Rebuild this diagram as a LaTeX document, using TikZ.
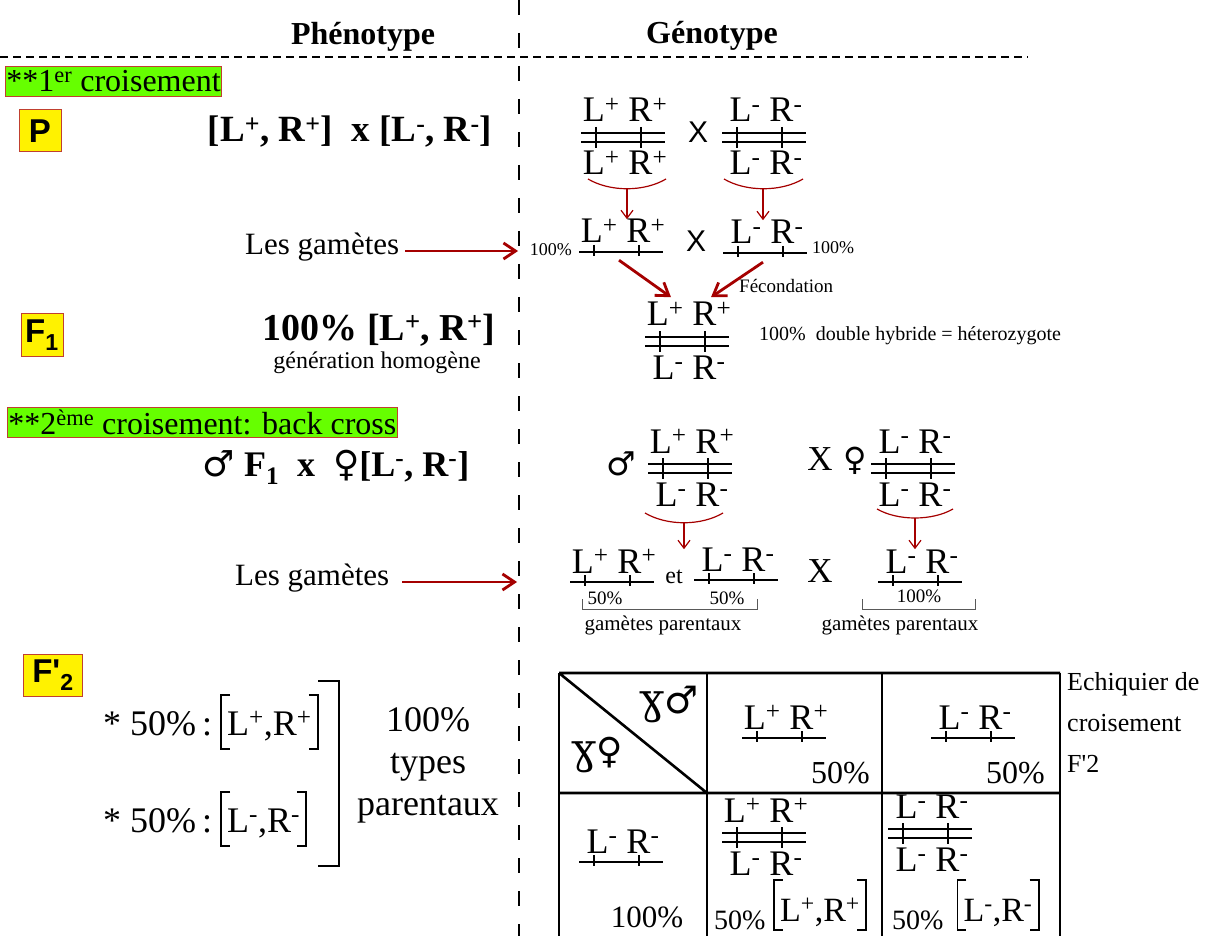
\documentclass[tikz,border=0pt]{standalone}
\usepackage{fontspec}
\setmainfont{Liberation Serif}
\setsansfont{Liberation Sans}
\newfontfamily\gsym{DejaVu Sans}
\newfontfamily\gipa{DejaVu Serif}
\usepackage{xcolor}
\usepackage{tikz}
\usetikzlibrary{arrows.meta, positioning, calc}
\definecolor{dred}{RGB}{165,0,0}
\definecolor{lgreen}{RGB}{102,255,0}
\definecolor{bord}{RGB}{192,64,48}
\newcommand{\setsz}[1]{\fontsize{#1}{#1}\selectfont}
\newcommand{\chrS}[4]{%
  \node[allele] (#1) at (#2+2,#3-9) {L\textsuperscript{#4} R\textsuperscript{#4}};
  \draw[chrom] (#2-42,#3) -- (#2+42,#3);
  \draw[tickl] (#2-27,#3-7) -- (#2-27,#3+4) (#2+18,#3-7) -- (#2+18,#3+4);
}
\newcommand{\chrD}[5]{%
  \node[allele] (#1t) at (#2+2,#3-11) {L\textsuperscript{#4} R\textsuperscript{#4}};
  \node[allele] (#1b) at (#2+2,#3+42) {L\textsuperscript{#5} R\textsuperscript{#5}};
  \draw[chrom] (#2-42,#3) -- (#2+42,#3) (#2-42,#3+9) -- (#2+42,#3+9);
  \draw[tickl] (#2-27,#3-6) -- (#2-27,#3+15) (#2+18,#3-6) -- (#2+18,#3+15);
}

\begin{document}
\begin{tikzpicture}[x=1pt, y=-1pt,
  txt/.style={inner sep=0, anchor=base},
  allele/.style={inner sep=0, anchor=base, font=\setsz{36}},
  chrom/.style={line width=2.8pt},
  tickl/.style={line width=1.1pt},
  lbl/.style={draw=bord, line width=1pt, fill=yellow, minimum height=42pt,
              minimum width=42pt, inner xsep=3pt, font=\sffamily\bfseries\setsz{33}},
  cross/.style={draw=bord, line width=0.8pt, fill=lgreen, inner xsep=1pt,
                inner ysep=0pt, minimum height=30pt, anchor=west, font=\setsz{32}},
  arr/.style={-{Straight Barb[length=12pt,width=16pt]}, dred, line width=2.8pt},
  darr/.style={-{Straight Barb[length=8pt,width=12pt]}, dred, line width=1.2pt},
  arcl/.style={dred, line width=1.2pt},
  pheno/.style={inner sep=0, anchor=base, font=\bfseries\setsz{37}},
  brk/.style={line width=1.8pt},
  brnode/.style={inner xsep=6pt, inner ysep=12pt, text height=28pt,
                 text depth=2pt, anchor=base west, font=\setsz{36}},
  cellbr/.style={inner xsep=6pt, inner ysep=9pt, text height=32pt,
                 text depth=0pt, anchor=base, font=\setsz{34}},
  gbr/.style={gray!70!black, line width=0.9pt},
  hdash/.style={line width=1.6pt, dash pattern=on 8pt off 5pt},
  vdash/.style={line width=2.2pt, dash pattern=on 15pt off 18pt},
  tbl/.style={line width=2.6pt}
]
\useasboundingbox (0,0) rectangle (1211,936);
\draw[hdash] (0,57) -- (1028,57);
\draw[vdash] (519,0) -- (519,936);
\node[txt, font=\bfseries\setsz{32}] (phen) at (363,45) {Phénotype};
\node[txt, font=\bfseries\setsz{32}] (geno) at (712,44) {Génotype};

\node[cross] (cr1) at (5,81) {**1\textsuperscript{er} croisement};
\node[lbl] (labP) at (40,131) {P};
\node[pheno] (phP) at (350,142)
  {[L\textsuperscript{+}, R\textsuperscript{+}]~~x [L\textsuperscript{-}, R\textsuperscript{-}]};
\chrD{pA}{623}{133}{+}{+}
\node[txt, font=\sffamily\setsz{30}] (xA) at (698,143) {X};
\chrD{pB}{764}{133}{-}{-}
\draw[arcl] (588,179) .. controls (610,192) and (644,192) .. (666,179);
\draw[arcl] (724,179) .. controls (746,192) and (781,192) .. (803,179);
\coordinate (arA) at (627,189);
\coordinate (arB) at (763,189);

\node[txt, font=\setsz{31}, anchor=base west] (lgA) at (245,255) {Les gamètes};
\coordinate (gaA) at (518,251);
\draw[arr, shorten <=6pt] (lgA.east |- gaA) -- (gaA);
\chrS{gA}{621}{252}{+}
\node[txt, font=\sffamily\setsz{30}] (xB) at (696,252) {X};
\chrS{gB}{765}{253}{-}
\node[txt, font=\setsz{18}, anchor=base east] (pcA) at (572,256) {100\%};
\node[txt, font=\setsz{18}, anchor=base west] (pcB) at (812,254) {100\%};
\draw[darr] (arA) -- (arA |- gA.north);
\draw[darr] (arB) -- (arB |- gB.north);

\node[txt, font=\setsz{19}, anchor=base west] (fec) at (739,293) {Fécondation};
\chrD{fone}{687}{337}{+}{-}
\draw[arr] ($(gA.south)+(-4,17)$) -- ($(fonet.north)+(-18,-5)$);
\draw[arr] ($(gB.south)+(-4,18)$) -- ($(fonet.north)+(22,-5)$);
\node[txt, font=\setsz{20}, anchor=base west] (hyb) at (759,340)
  {100\%~~double hybride = héterozygote};

\node[lbl] (labF) at (42,335) {F\textsubscript{1}};
\node[pheno, font=\bfseries\setsz{38}] (phF) at (379,340)
  {100\% [L\textsuperscript{+}, R\textsuperscript{+}]};
\node[txt, font=\setsz{24}] (hom) at (377,368) {génération homogène};

\node[cross] (cr2) at (7,422) {**2\textsuperscript{ème} croisement: back cross};
\node[pheno, font=\bfseries\setsz{36}] (phB) at (336,476)
  {{\gsym\mdseries ♂}~F\textsubscript{1}~~x~~{\gsym\mdseries ♀}[L\textsuperscript{-}, R\textsuperscript{-}]};
\node[txt, font=\gsym\setsz{33}] (maleA) at (621,475) {♂};
\chrD{bA}{690}{464}{+}{-}
\node[txt, font=\setsz{35}] (xC) at (820,470) {X};
\node[txt, font=\gsym\setsz{32}] (femA) at (855,470) {♀};
\chrD{bB}{913}{464}{-}{-}
\draw[arcl] (645,513) .. controls (667,526) and (701,526) .. (723,513);
\draw[arcl] (877,509) .. controls (898,521) and (932,521) .. (953,509);
\coordinate (arC) at (684,523);
\coordinate (arD) at (915,518);

\node[txt, font=\setsz{31}, anchor=base west] (lgB) at (235,585) {Les gamètes};
\coordinate (gaB) at (517,582);
\draw[arr, shorten <=13pt] (lgB.east |- gaB) -- (gaB);
\chrS{cA}{612}{582}{+}
\node[txt, font=\setsz{24}] (et) at (674,583) {et};
\chrS{cB}{736}{580}{-}
\node[txt, font=\setsz{35}] (xD) at (820,582) {X};
\chrS{cC}{920}{582}{-}
\draw[darr] (arC) -- (arC |- cA.north);
\draw[darr] (arD) -- (arD |- cC.north);
\node[txt, font=\setsz{19}] (pcC) at (605,604) {50\%};
\node[txt, font=\setsz{19}] (pcD) at (727,604) {50\%};
\node[txt, font=\setsz{19}] (pcE) at (919,602) {100\%};
\draw[gbr] (582,599) |- (757,609) -- (757,599);
\draw[gbr] (862,599) |- (975,609) -- (975,599);
\node[txt, font=\setsz{21}] (gpA) at (663,630) {gamètes parentaux};
\node[txt, font=\setsz{21}] (gpB) at (900,630) {gamètes parentaux};

\node[lbl, minimum width=59pt] (labFF) at (53,675) {F\textquotesingle\textsubscript{2}};
\node[txt, font=\setsz{36}, anchor=base west] (sA) at (103,735) {*~50\%\,:};
\node[brnode] (phA) at (221,735) {L\textsuperscript{+},R\textsuperscript{+}};
\node[txt, font=\setsz{36}, anchor=base west] (sB) at (103,832) {*~50\%\,:};
\node[brnode] (phBB) at (221,832) {L\textsuperscript{-},R\textsuperscript{-}};
\draw[line width=1.1pt] (318,681) -| (339,866) -- (318,866);
\node[font=\fontsize{36}{42}\selectfont, align=center, inner sep=0, anchor=north]
  (typ) at (428,707) {100\%\\types\\parentaux};

\foreach \x in {559,707,882,1060}
  \draw[tbl] (\x,673) -- (\x,940);
\draw[tbl] (559,673) -- (1060,673) (559,793) -- (1060,793) (559,673) -- (707,793);
\node[txt, anchor=base east] (gmale) at (699,713)
  {{\gipa\setsz{42}ɣ}{\gsym\setsz{38}♂}};
\node[txt, anchor=base west] (gfem) at (571,763)
  {{\gipa\setsz{42}ɣ}{\gsym\setsz{36}♀}};
\chrS{tA}{784}{738}{+}
\node[txt, font=\setsz{32}, anchor=base east] (pcF) at (870,783) {50\%};
\chrS{tB}{973}{738}{-}
\node[txt, font=\setsz{32}, anchor=base east] (pcG) at (1045,783) {50\%};
\chrS{tC}{621}{862}{-}
\node[txt, font=\setsz{31}] (pcH) at (647,927) {100\%};
\chrD{tD}{764}{833}{+}{-}
\node[txt, font=\setsz{28}, anchor=base west] (pcI) at (714,929) {50\%};
\node[cellbr] (phC) at (820,921) {L\textsuperscript{+},R\textsuperscript{+}};
\chrD{tE}{930}{829}{-}{-}
\node[txt, font=\setsz{28}, anchor=base west] (pcJ) at (892,929) {50\%};
\node[cellbr] (phD) at (998,921) {L\textsuperscript{-},R\textsuperscript{-}};
\foreach \n in {phA,phBB,phC,phD}{
  \draw[brk] ($(\n.north west)+(9,0)$) -- (\n.north west) -- (\n.south west) -- ++(9,0);
  \draw[brk] ($(\n.north east)+(-9,0)$) -- (\n.north east) -- (\n.south east) -- ++(-9,0);
}
\node[font=\fontsize{26}{41}\selectfont, align=left, inner sep=0, anchor=north west]
  (ech) at (1067,672) {Echiquier de\\croisement\\F\textquotesingle 2};
\end{tikzpicture}
\end{document}
